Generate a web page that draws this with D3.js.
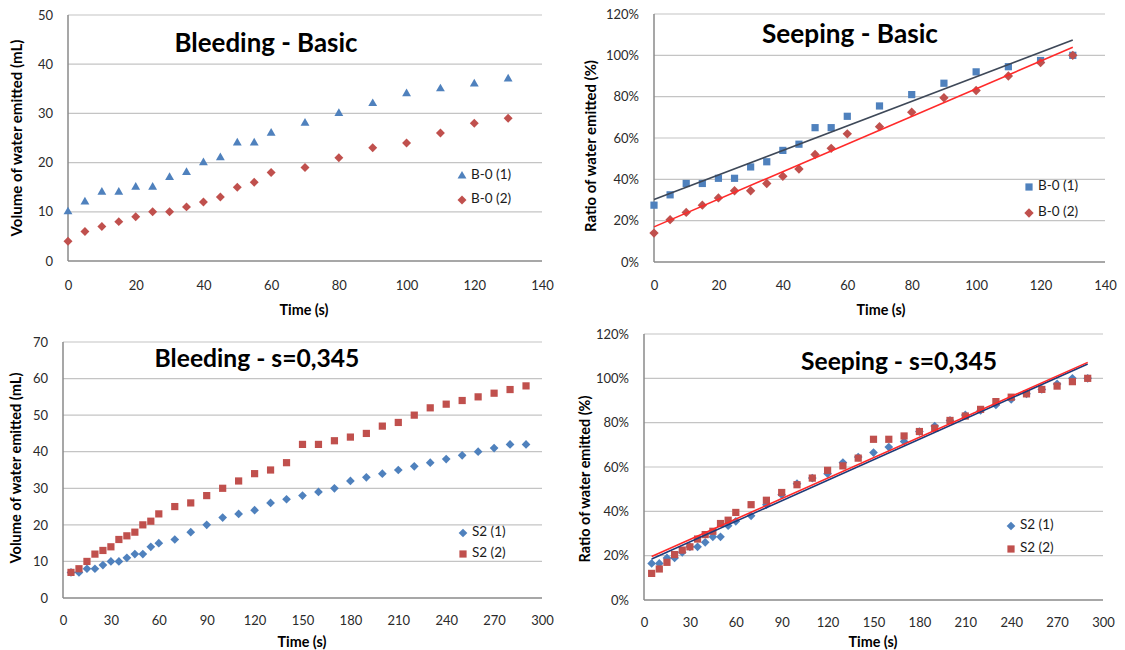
<!DOCTYPE html>
<html><head><meta charset="utf-8">
<script src="https://cdn.jsdelivr.net/npm/d3@7"></script>
<style>
html,body{margin:0;padding:0;background:#fff;}
svg{display:block;font-family:Lato,"Open Sans",sans-serif;}
</style></head>
<body>
<svg id="c" width="1125" height="650"></svg>
<script>
// ---------- data ----------
const timeBasic = [0,5,10,15,20,25,30,35,40,45,50,55,60,70,80,90,100,110,120,130];
const bleedBasic1 = [10,12,14,14,15,15,17,18,20,21,24,24,26,28,30,32,34,35,36,37];
const bleedBasic2 = [4,6,7,8,9,10,10,11,12,13,15,16,18,19,21,23,24,26,28,29];
const seepBasic1 = [27.5,32.5,38,38,40.5,40.5,46,48.5,54,57,65,65,70.5,75.5,81,86.5,92,94.5,97.5,100];
const seepBasic2 = [14,20.5,24,27.5,31,34.5,34.5,38,41.5,45,52,55,62,65.5,72.5,79.5,83,90,96.5,100];
const trendBasic1 = [[0,30.2],[130,107.4]];
const trendBasic2 = [[0,17],[130,103.9]];

const timeS2 = [5,10,15,20,25,30,35,40,45,50,55,60,70,80,90,100,110,120,130,140,150,160,170,180,190,200,210,220,230,240,250,260,270,280,290];
const bleedS2a = [7,7,8,8,9,10,10,11,12,12,14,15,16,18,20,22,23,24,26,27,28,29,30,32,33,34,35,36,37,38,39,40,41,42,42];
const bleedS2b = [7,8,10,12,13,14,16,17,18,20,21,23,25,26,28,30,32,34,35,37,42,42,43,44,45,47,48,50,52,53,54,55,56,57,58];
const seepS2a = [16.5,16.5,19,19,21.5,24,24,26,28.5,28.5,33.5,35.5,38,43,47.5,52.5,55,57,62,64.5,66.5,69,71.5,76,78.5,81,83.5,85.5,88,90.5,93,95,97.5,100,100];
const seepS2b = [12,14,17,20.5,22.5,24,27.5,29.5,31,34.5,36,39.5,43,45,48.5,52,55,58.5,60.5,64,72.5,72.5,74,76,77.5,81,83,86,89.5,91.5,93,95,96.5,98.5,100];
const trendS2a = [[5,18.5],[290,106.5]];
const trendS2b = [[5,19.6],[290,107.2]];

const xTicksBasic = [0,20,40,60,80,100,120,140];
const xTicksS2 = [0,30,60,90,120,150,180,210,240,270,300];
const yTicksBleedBasic = [0,10,20,30,40,50];
const yTicksBleedS2 = [0,10,20,30,40,50,60,70];
const yTicksPct = [0,20,40,60,80,100,120];

const titles = ["Bleeding - Basic","Seeping - Basic","Bleeding - s=0,345","Seeping - s=0,345"];
const xTitle = "Time (s)";
const yTitleVol = "Volume of water emitted (mL)";
const yTitlePct = "Ratio of water emitted (%)";
const legBasic = ["B-0 (1)","B-0 (2)"];
const legS2 = ["S2 (1)","S2 (2)"];

// ---------- style ----------
const BLUE = "#4F81BD", RED = "#C0504D";
const svg = d3.select("#c");

function fitText(t, w){
  const fs = parseFloat(t.attr("font-size"));
  const m = t.node().getComputedTextLength();
  if (m > 0) t.attr("font-size", fs * w / m);
}

function symbolPath(type, sz){
  if (type === "triangle") return d3.symbol(d3.symbolTriangle, sz)();
  if (type === "square") return d3.symbol(d3.symbolSquare, sz)();
  return d3.symbol(d3.symbolSquare, sz)(); // diamond = rotated square
}

function panel(cfg){
  const g = svg.append("g");
  const x = d3.scaleLinear().domain(cfg.xDomain).range([cfg.left, cfg.right]);
  const y = d3.scaleLinear().domain(cfg.yDomain).range([cfg.bottom, cfg.top]);

  // gridlines
  g.selectAll("line.grid").data(cfg.yTicks.filter(d=>d>cfg.yDomain[0])).join("line")
    .attr("x1", cfg.left).attr("x2", cfg.right)
    .attr("y1", d=>y(d)).attr("y2", d=>y(d))
    .attr("stroke", "#c4c4c4").attr("stroke-width", 1.2);

  // axes
  const ax = d3.axisBottom(x).tickValues(cfg.xTicks).tickSize(0).tickPadding(0);
  const xa = g.append("g").attr("transform", `translate(0,${cfg.bottom})`).call(ax);
  xa.select(".domain").remove();
  xa.selectAll("text").attr("dy", null).attr("y", cfg.xLabY - cfg.bottom).attr("dominant-baseline","middle")
    .attr("font-size", 13).attr("font-family","Lato").attr("fill","#2a2a2a");
  const ay = d3.axisLeft(y).tickValues(cfg.yTicks).tickSize(0).tickPadding(15).tickFormat(cfg.yFmt);
  const ya = g.append("g").attr("transform", `translate(${cfg.left},0)`).call(ay);
  ya.select(".domain").remove();
  ya.selectAll("text").attr("font-size", 13).attr("font-family","Lato").attr("fill","#2a2a2a");

  g.append("line").attr("x1", cfg.left).attr("x2", cfg.right).attr("y1", cfg.bottom).attr("y2", cfg.bottom)
    .attr("stroke", "#8a8a8a").attr("stroke-width", 1.5);
  g.append("line").attr("x1", cfg.left).attr("x2", cfg.left).attr("y1", cfg.top).attr("y2", cfg.bottom)
    .attr("stroke", "#8a8a8a").attr("stroke-width", 1.5);

  // series
  cfg.series.forEach(s => {
    g.append("g").selectAll("path").data(s.values.map((v,i)=>[s.time[i], v])).join("path")
      .attr("d", symbolPath(s.shape, s.size))
      .attr("transform", d => `translate(${x(d[0])},${y(d[1])})` + (s.shape==="diamond" ? " rotate(45)" : ""))
      .attr("fill", s.color);
  });

  // trend lines
  (cfg.trends||[]).forEach(t => {
    g.append("path").datum(t.pts)
      .attr("d", d3.line().x(d=>x(d[0])).y(d=>y(d[1])))
      .attr("stroke", t.color).attr("stroke-width", 1.6).attr("fill","none");
  });

  // title
  const tt = g.append("text").text(cfg.title).attr("x", cfg.titleX).attr("y", cfg.titleY)
    .attr("text-anchor","middle").attr("font-weight", "bold").attr("font-size", 26).attr("fill","#000");
  fitText(tt, cfg.titleW);

  // axis titles
  const xt = g.append("text").text(xTitle).attr("x", cfg.xTitleX).attr("y", cfg.xTitleY)
    .attr("text-anchor","middle").attr("dominant-baseline","middle").attr("font-weight","bold").attr("font-size",13);
  fitText(xt, 49);
  const yt = g.append("text").text(cfg.yTitle)
    .attr("transform", `translate(${cfg.yTitleX},${cfg.yTitleY}) rotate(-90)`)
    .attr("text-anchor","middle").attr("dominant-baseline","middle").attr("font-weight","bold").attr("font-size",12);
  fitText(yt, cfg.yTitleW);

  // legend
  cfg.series.forEach((s, i) => {
    const ly = cfg.legY[i];
    g.append("path").attr("d", symbolPath(s.shape, s.size))
      .attr("transform", `translate(${cfg.legX},${ly})` + (s.shape==="diamond" ? " rotate(45)" : ""))
      .attr("fill", s.color);
    g.append("text").text(s.name).attr("x", cfg.legX + 9).attr("y", ly)
      .attr("dominant-baseline","middle").attr("font-size", 13.5).attr("fill","#1a1a1a");
  });
}

const pctFmt = d => d + "%";

panel({
  xDomain:[0,140], yDomain:[0,50], left:68, right:542, top:15, bottom:261,
  xTicks:xTicksBasic, yTicks:yTicksBleedBasic, yFmt:d=>d, xLabY:287,
  title:titles[0], titleX:266, titleY:52, titleW:183,
  xTitleX:304, xTitleY:311, yTitle:yTitleVol, yTitleX:18, yTitleY:138, yTitleW:197,
  legX:462, legY:[176,200],
  series:[
    {name:legBasic[0], time:timeBasic, values:bleedBasic1, color:BLUE, shape:"triangle", size:34},
    {name:legBasic[1], time:timeBasic, values:bleedBasic2, color:RED, shape:"diamond", size:40}
  ]
});

panel({
  xDomain:[0,140], yDomain:[0,120], left:654, right:1105, top:14, bottom:262,
  xTicks:xTicksBasic, yTicks:yTicksPct, yFmt:pctFmt, xLabY:287,
  title:titles[1], titleX:850, titleY:43, titleW:176,
  xTitleX:881, xTitleY:311, yTitle:yTitlePct, yTitleX:592, yTitleY:146, yTitleW:172,
  legX:1029, legY:[187,213],
  series:[
    {name:legBasic[0], time:timeBasic, values:seepBasic1, color:BLUE, shape:"square", size:52},
    {name:legBasic[1], time:timeBasic, values:seepBasic2, color:RED, shape:"diamond", size:44}
  ],
  trends:[{pts:trendBasic1, color:"#3e4858"},{pts:trendBasic2, color:"#ff2a2a"}]
});

panel({
  xDomain:[0,300], yDomain:[0,70], left:63, right:542, top:342, bottom:598,
  xTicks:xTicksS2, yTicks:yTicksBleedS2, yFmt:d=>d, xLabY:622,
  title:titles[2], titleX:257, titleY:367, titleW:205,
  xTitleX:302, xTitleY:643, yTitle:yTitleVol, yTitleX:17, yTitleY:468, yTitleW:191,
  legX:463, legY:[533,554],
  series:[
    {name:legS2[0], time:timeS2, values:bleedS2a, color:BLUE, shape:"diamond", size:38},
    {name:legS2[1], time:timeS2, values:bleedS2b, color:RED, shape:"square", size:52}
  ]
});

panel({
  xDomain:[0,300], yDomain:[0,120], left:644, right:1103, top:334, bottom:600,
  xTicks:xTicksS2, yTicks:yTicksPct, yFmt:pctFmt, xLabY:624,
  title:titles[3], titleX:899, titleY:370, titleW:196,
  xTitleX:873, xTitleY:643, yTitle:yTitlePct, yTitleX:586, yTitleY:479, yTitleW:167,
  legX:1011, legY:[526,549],
  series:[
    {name:legS2[0], time:timeS2, values:seepS2a, color:BLUE, shape:"diamond", size:38},
    {name:legS2[1], time:timeS2, values:seepS2b, color:RED, shape:"square", size:52}
  ],
  trends:[{pts:trendS2a, color:"#1f3a78"},{pts:trendS2b, color:"#ff2a2a"}]
});
</script>
</body></html>
